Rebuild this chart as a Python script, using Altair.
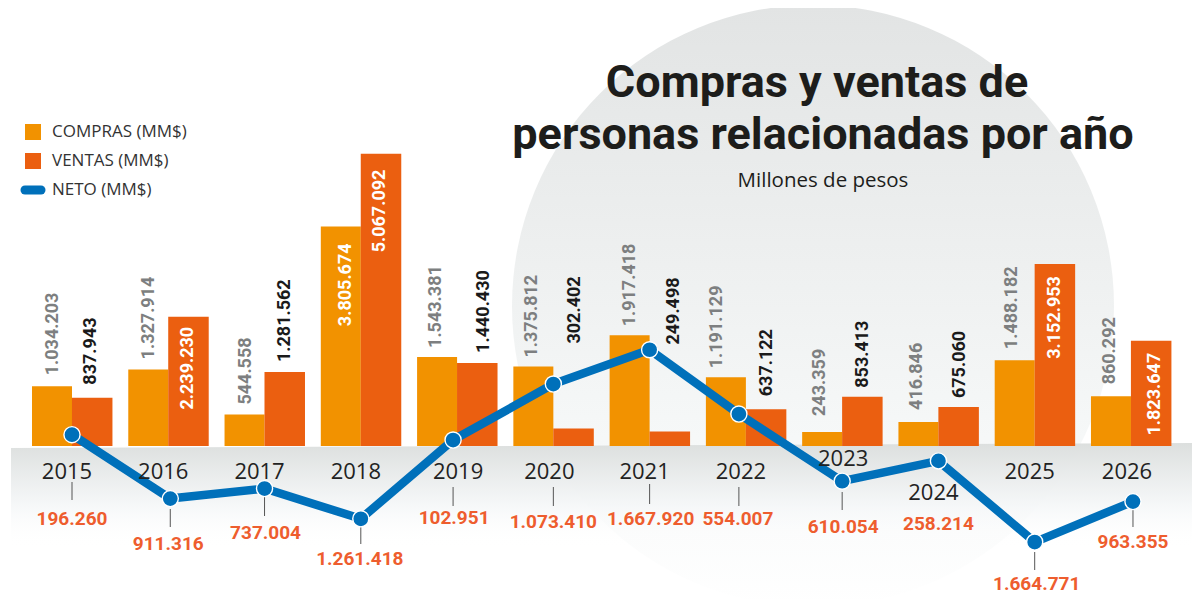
import altair as alt
import pandas as pd

years = [2015, 2016, 2017, 2018, 2019, 2020, 2021, 2022, 2023, 2024, 2025, 2026]
compras = [1034203, 1327914, 544558, 3805674, 1543381, 1375812, 1917418, 1191129, 243359, 416846, 1488182, 860292]
ventas = [837943, 2239230, 1281562, 5067092, 1440430, 302402, 249498, 637122, 853413, 675060, 3152953, 1823647]

# annotation nudges, in pixels
neto_dx = [0, 2, 0, 0, -4, 0, 0, -7, 0, 0, 0, 2]
neto_label_dx = [0, 0, 1, -1, -3, 0, 1, -8, 1, 0, 2, 2]
neto_label_drop = [73, 98, 87, 113, 72, 76, 73, 73, 81, 78, 138, 96]
rule_top = [36, 63, 51, 81, 41, 41, 38, 41, 46, None, 106, 63]
rule_bottom = [54, 81, 70, 98, 60, 60, 58, 60, 64, None, 124, 81]
year_dx = [-5, -5, -5, -5, 1, -4, -5, -5, 1, -5, -5, -4]
year_drop = [26, 26, 26, 26, 26, 26, 26, 26, 13, 47, 26, 26]
compras_gap = [11, 10, 10, -17, 9, 9, 9, 9, 16, 12, 11, 12]
ventas_gap = [13, -10, 10, -16, 10, 85, 87, 13, 9, 9, -12, -12]
compras_label_dx = [1, 1, 1, 5, -1, -1, 0, -9, -2, -1, -3, -1]
ventas_label_dx = [-1, 0, 0, -1, 7, 2, 4, 1, 1, 2, 0, 4]

W, H = 1184, 591
PX_PER_YEAR = 96.27
PX_PER_UNIT = 57.7 / 1e6
X0, Y0 = 72 - 8, 446 - 8   # pixel position of year 2015 and of zero, inside the plot


def yr(px):
    return px / PX_PER_YEAR


def val(px):
    return px / PX_PER_UNIT


xscale = alt.Scale(domain=[years[0] - yr(X0), years[0] + yr(W - X0)], range=[0, W], nice=False, zero=False, padding=0)
yscale = alt.Scale(domain=[-val(H - Y0), val(Y0)], range=[H, 0], nice=False, zero=False)


def fmt(v):
    return f"{abs(v):,}".replace(",", ".")


neto = [c - v for c, v in zip(compras, ventas)]
df = pd.DataFrame({"year": years, "compras": compras, "ventas": ventas, "neto": neto})
df["neto_x"] = [y + yr(d) for y, d in zip(years, neto_dx)]
df["neto_text"] = [fmt(v) for v in neto]
df["neto_label_x"] = [y + yr(d) for y, d in zip(years, neto_label_dx)]
df["neto_label_y"] = [-val(d) for d in neto_label_drop]
df["year_x"] = [y + yr(d) for y, d in zip(years, year_dx)]
df["year_y"] = [-val(d) for d in year_drop]
df["year_text"] = [str(y) for y in years]

rules = pd.DataFrame(
    [
        {"x": y + yr(d), "y": -val(a), "y2": -val(b)}
        for y, d, a, b in zip(years, neto_dx, rule_top, rule_bottom)
        if a is not None
    ]
)

labels = []
for i, y in enumerate(years):
    labels.append(dict(year=y + yr(compras_label_dx[i] - 20), v=compras[i] + val(compras_gap[i]),
                       text=fmt(compras[i]), series="c", outside=compras_gap[i] > 0))
    labels.append(dict(year=y + yr(ventas_label_dx[i] + 20), v=ventas[i] + val(ventas_gap[i]),
                       text=fmt(ventas[i]), series="v", outside=ventas_gap[i] > 0))
labels = pd.DataFrame(labels)

X = lambda f: alt.X(f, scale=xscale, axis=None)
Y = lambda f: alt.Y(f, scale=yscale, axis=None)

circle_fill = alt.LinearGradient(
    gradient="linear", x1=0, y1=0, x2=0, y2=1,
    stops=[alt.GradientStop(offset=0, color="#e2e4e4"),
           alt.GradientStop(offset=0.72, color="#f6f8f8"),
           alt.GradientStop(offset=1, color="#ffffff")],
)
band_fill = alt.LinearGradient(
    gradient="linear", x1=0, y1=0, x2=0, y2=1,
    stops=[alt.GradientStop(offset=0, color="#dcdfde"),
           alt.GradientStop(offset=0.6, color="rgba(245,247,248,0.9)"),
           alt.GradientStop(offset=1, color="rgba(255,255,255,0)")],
)
one = pd.DataFrame({"a": [0]})

circle = alt.Chart(one).mark_circle(fill=circle_fill, opacity=1, size=362404).encode(
    x=alt.value(813 - 8), y=alt.value(306 - 8))
band = alt.Chart(pd.DataFrame({"x": [3, 1186], "y": [440, 435], "y2": [540, 540]})).mark_area(fill=band_fill).encode(
    x=alt.X("x:Q", scale=None, axis=None), y=alt.Y("y:Q", scale=None, axis=None), y2="y2:Q")

bar_c = alt.Chart(df).mark_bar(size=40, xOffset=-20, color="#f29200").encode(x=X("year:Q"), y=Y("compras:Q"))
bar_v = alt.Chart(df).mark_bar(size=40.5, xOffset=20.2, color="#eb5f10").encode(x=X("year:Q"), y=Y("ventas:Q"))

LABEL_FONT = "Roboto"


def vlabels(series, outside, color):
    sub = labels[(labels.series == series) & (labels.outside == outside)]
    return alt.Chart(sub).mark_text(
        angle=270, align="left" if outside else "right", baseline="middle",
        font=LABEL_FONT, fontSize=18, fontWeight="bold", color=color,
    ).encode(x=X("year:Q"), y=Y("v:Q"), text="text:N")


line = alt.Chart(df).mark_line(color="#0070ba", strokeWidth=8.5, strokeCap="butt", strokeJoin="round").encode(
    x=X("neto_x:Q"), y=Y("neto:Q"), order="year:Q")
dots = alt.Chart(df).mark_point(filled=True, size=260, color="#0070ba", stroke="#ffffff", strokeWidth=1.4, opacity=1,
                                fill="#0070ba").encode(x=X("neto_x:Q"), y=Y("neto:Q"))
rule = alt.Chart(rules).mark_rule(color="#555555", strokeWidth=1).encode(x=X("x:Q"), y=Y("y:Q"), y2="y2:Q")
year_text = alt.Chart(df).mark_text(font="Open Sans", fontSize=22, color="#222222", baseline="middle").encode(
    x=X("year_x:Q"), y=Y("year_y:Q"), text="year_text:N")
neto_text = alt.Chart(df).mark_text(font=LABEL_FONT, fontSize=19, fontWeight="bold", color="#ee5d2e",
                                    baseline="middle").encode(
    x=X("neto_label_x:Q"), y=Y("neto_label_y:Q"), text="neto_text:N")


def label(text, px, py, size, weight="normal", font="Open Sans", color="#1d1d1b", align="center", baseline="alphabetic"):
    return alt.Chart(pd.DataFrame({"t": [text]})).mark_text(
        font=font, fontSize=size, fontWeight=weight, color=color, align=align, baseline=baseline
    ).encode(x=alt.value(px - 8), y=alt.value(py - 8), text="t:N")


title1 = label("Compras y ventas de", 817, 97, 45, "bold", "Roboto")
title2 = label("personas relacionadas por año", 823, 149, 45, "bold", "Roboto")
sub = label("Millones  de pesos", 823, 187, 20.5)


def swatch(py, color):
    return alt.Chart(one).mark_square(size=256, opacity=1, color=color).encode(x=alt.value(33 - 8), y=alt.value(py - 8))


legend_line = alt.Chart(pd.DataFrame({"x": [17, 33], "y": [182, 182]})).mark_line(
    color="#0070ba", strokeWidth=9, strokeCap="round").encode(
    x=alt.X("x:Q", scale=None, axis=None), y=alt.Y("y:Q", scale=None, axis=None))
lt = [label(t, 52, y, 17, align="left", baseline="middle", color="#333333") for t, y in
      [("COMPRAS (MM$)", 132), ("VENTAS (MM$)", 161), ("NETO  (MM$)", 190)]]

chart = alt.layer(
    circle, band, bar_c, bar_v,
    vlabels("c", True, "#7d7f80"), vlabels("v", True, "#1a1a1a"),
    vlabels("c", False, "#ffffff"), vlabels("v", False, "#ffffff"),
    rule, line, dots, year_text, neto_text,
    title1, title2, sub, swatch(132, "#f29200"), swatch(161, "#eb5f10"), legend_line, *lt,
).resolve_scale(x="shared", y="shared").properties(
    width=W, height=H, padding=0, background="#ffffff",
    autosize=alt.AutoSizeParams(type="none"),
).configure_view(stroke=None)

chart.save("out.html", embed_options={"renderer": "svg", "actions": False})
